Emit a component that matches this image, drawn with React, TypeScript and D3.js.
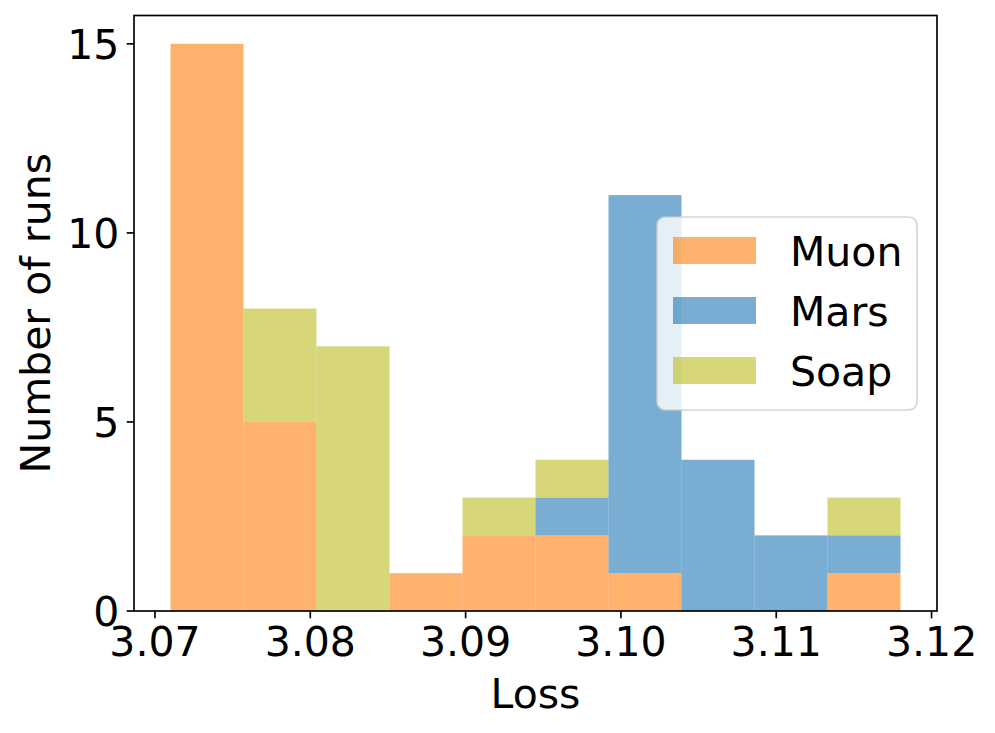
import * as d3 from 'd3';

// histogram bins (Loss)
const binEdges = [3.0710, 3.0757, 3.0804, 3.0851, 3.0898, 3.0945, 3.0992, 3.1039, 3.1086, 3.1133, 3.1180];

// stacked counts per bin
const muonCounts = [15, 5, 0, 1, 2, 2, 1, 0, 0, 1];
const marsCounts = [0, 0, 0, 0, 0, 1, 10, 4, 2, 1];
const soapCounts = [0, 3, 7, 0, 1, 1, 0, 0, 0, 1];

const seriesNames = ['Muon', 'Mars', 'Soap'];
const seriesColors = ['#ff7f0e', '#1f77b4', '#bcbd22'];

const xTicks = [3.07, 3.08, 3.09, 3.10, 3.11, 3.12];
const yTicks = [0, 5, 10, 15];

const W = 995;
const H = 733;
const margin = { left: 134, right: 58, top: 15.5, bottom: 122 };
const FONT = 'DejaVu Sans, sans-serif';
const FS = 41;

export default function App() {
  const plotW = W - margin.left - margin.right;
  const plotH = H - margin.top - margin.bottom;

  const span = binEdges[binEdges.length - 1] - binEdges[0];
  const x = d3.scaleLinear()
    .domain([binEdges[0] - span * 0.05, binEdges[binEdges.length - 1] + span * 0.05])
    .range([0, plotW]);

  const allCounts = [muonCounts, marsCounts, soapCounts];
  const stacks = binEdges.slice(0, -1).map((_, i) => {
    let base = 0;
    return allCounts.map(c => {
      const seg = { y0: base, y1: base + c[i] };
      base += c[i];
      return seg;
    });
  });
  const maxTotal = d3.max(stacks, s => s[s.length - 1].y1) || 0;

  const y = d3.scaleLinear().domain([0, maxTotal * 1.05]).range([plotH, 0]);
  const fmt = d3.format('.2f');

  const tickLen = 7.3;
  const pad = 7.3;
  const lw = 1.67;

  // legend geometry
  const lg = { x: 657, y: 217, w: 260, h: 193 };

  return (
    <svg
      width={W}
      height={H}
      style={{ position: 'absolute', left: 0, top: 0, background: '#fff' }}
      fontFamily={FONT}
    >
      <g transform={`translate(${margin.left},${margin.top})`}>
        {stacks.map((s, i) =>
          s.map((seg, k) =>
            seg.y1 > seg.y0 ? (
              <rect
                key={`${i}-${k}`}
                x={x(binEdges[i])}
                width={x(binEdges[i + 1]) - x(binEdges[i])}
                y={y(seg.y1)}
                height={y(seg.y0) - y(seg.y1)}
                fill={seriesColors[k]}
                fillOpacity={0.6}
              />
            ) : null
          )
        )}

        {/* axes frame */}
        <rect x={0} y={0} width={plotW} height={plotH} fill="none" stroke="#000" strokeWidth={lw} />

        {xTicks.map(t => (
          <g key={t} transform={`translate(${x(t)},${plotH})`}>
            <line y2={tickLen} stroke="#000" strokeWidth={lw} />
            <text y={tickLen + pad + 30} textAnchor="middle" fontSize={FS}>{fmt(t)}</text>
          </g>
        ))}

        {yTicks.map(t => (
          <g key={t} transform={`translate(0,${y(t)})`}>
            <line x2={-tickLen} stroke="#000" strokeWidth={lw} />
            <text x={-tickLen - pad} dy={15} textAnchor="end" fontSize={FS}>{t}</text>
          </g>
        ))}

        <text x={plotW / 2} y={plotH + 97} textAnchor="middle" fontSize={FS}>Loss</text>
        <text
          transform={`translate(${50 - margin.left},${plotH / 2}) rotate(-90)`}
          textAnchor="middle"
          fontSize={FS}
        >
          Number of runs
        </text>
      </g>

      {/* legend */}
      <g>
        <rect
          x={lg.x}
          y={lg.y}
          width={lg.w}
          height={lg.h}
          rx={8}
          fill="#fff"
          fillOpacity={0.8}
          stroke="#cccccc"
          strokeOpacity={0.8}
          strokeWidth={1.67}
        />
        {seriesNames.map((name, k) => (
          <g key={name} transform={`translate(${lg.x + 16},${lg.y + 33.5 + k * 60})`}>
            <rect x={0} y={-13.5} width={83} height={27} fill={seriesColors[k]} fillOpacity={0.6} />
            <text x={117} y={15} fontSize={FS}>{name}</text>
          </g>
        ))}
      </g>
    </svg>
  );
}
